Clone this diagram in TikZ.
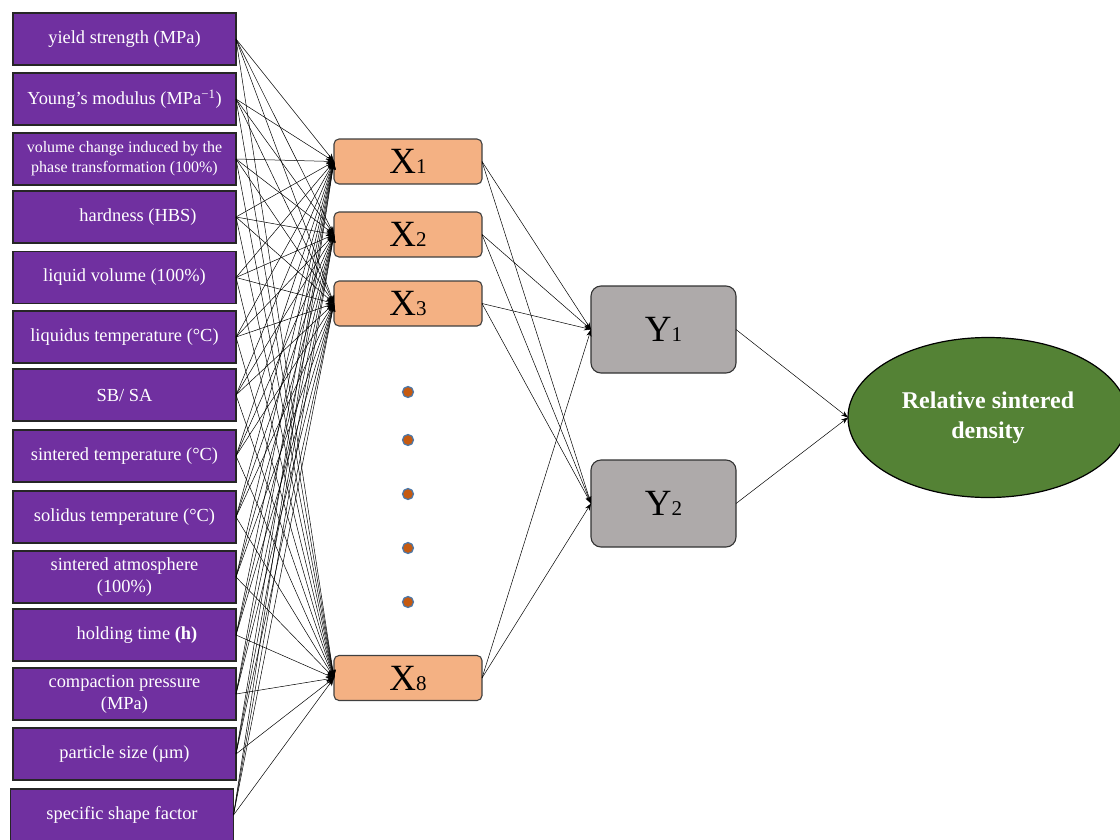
\documentclass[tikz,border=0pt]{standalone}
\usepackage{fontspec}
\setmainfont{Liberation Serif}
\usetikzlibrary{arrows.meta,shapes.geometric}
\definecolor{inpurple}{HTML}{7030A0}
\definecolor{xorange}{HTML}{F4B183}
\definecolor{ygray}{HTML}{AEAAAA}
\definecolor{outgreen}{HTML}{548235}
\definecolor{dotorange}{HTML}{C55A11}
\definecolor{dotblue}{HTML}{4A78AA}
\begin{document}
\begin{tikzpicture}[x=1pt,y=-1pt,
  inbox/.style={draw=black!85,line width=1.4pt,fill=inpurple,minimum width=223pt,minimum height=52pt,inner sep=0pt,outer sep=0pt,text=white,font=\fontsize{18.4}{22}\selectfont,align=center},
  smalltext/.style={font=\fontsize{16}{20}\selectfont},
  xbox/.style={draw=black!75,line width=1.1pt,fill=xorange,rounded corners=5pt,minimum width=148pt,minimum height=45pt,inner sep=0pt,outer sep=0pt},
  ybox/.style={draw=black!80,line width=1.1pt,fill=ygray,rounded corners=10pt,minimum width=145pt,minimum height=87pt,inner sep=0pt,outer sep=0pt},
  outell/.style={ellipse,draw=black,line width=1.2pt,fill=outgreen,minimum width=280pt,minimum height=160pt,inner sep=0pt,outer sep=0pt,text=white,font=\bfseries\fontsize{24}{30}\selectfont,align=center},
  dotnode/.style={circle,fill=dotorange,draw=dotblue,line width=1.2pt,minimum size=11pt,inner sep=0pt},
  link/.style={line width=0.5pt,-{Stealth[length=8pt,width=6pt]}},
  ylink/.style={line width=0.5pt,-{Stealth[length=7pt,width=5pt]}},
]
\clip (0,0) rectangle (1120,839);
\fill[white] (0,0) rectangle (1120,839);

% input boxes
\node[inbox] (in1) at (124.5,39) {yield strength (MPa)};
\node[inbox] (in2) at (124.5,99) {Young’s modulus (MPa\textsuperscript{−1})};
\node[inbox,smalltext] (in3) at (124.5,159) {volume change induced by the\\phase transformation (100\%)};
\node[inbox] (in4) at (124.5,217) {\hspace*{27pt}hardness (HBS)};
\node[inbox] (in5) at (124.5,277.5) {liquid volume (100\%)};
\node[inbox] (in6) at (124.5,337) {liquidus temperature (°C)};
\node[inbox] (in7) at (124.5,395) {SB/ SA};
\node[inbox] (in8) at (124.5,456) {sintered temperature (°C)};
\node[inbox] (in9) at (124.5,517) {solidus temperature (°C)};
\node[inbox] (in10) at (124.5,577) {sintered atmosphere\\(100\%)};
\node[inbox] (in11) at (124.5,635) {\hspace*{25pt}holding time \textbf{(h)}};
\node[inbox] (in12) at (124.5,694) {compaction pressure\\(MPa)};
\node[inbox] (in13) at (124.5,754) {particle size (µm)};
\node[inbox] (in14) at (122,815) {specific shape factor};

% hidden layer
\node[xbox] (x1) at (408,161.5) {\fontsize{37}{37}\selectfont X\fontsize{21}{21}\selectfont 1};
\node[xbox] (x2) at (408,234.5) {\fontsize{37}{37}\selectfont X\fontsize{21}{21}\selectfont 2};
\node[xbox] (x3) at (408,303.5) {\fontsize{37}{37}\selectfont X\fontsize{21}{21}\selectfont 3};
\node[xbox] (x8) at (408,678) {\fontsize{37}{37}\selectfont X\fontsize{21}{21}\selectfont 8};

\node[dotnode] (d1) at (408,392) {};
\node[dotnode] (d2) at (408,440) {};
\node[dotnode] (d3) at (408,494) {};
\node[dotnode] (d4) at (408,548) {};
\node[dotnode] (d5) at (408,602) {};

% second layer
\node[ybox] (y1) at (663.5,329.5) {\fontsize{37}{37}\selectfont Y\fontsize{21}{21}\selectfont 1};
\node[ybox] (y2) at (663.5,503.5) {\fontsize{37}{37}\selectfont Y\fontsize{21}{21}\selectfont 2};

% output
\node[outell] (out) at (988,417.5) {Relative sintered\\density};

% connectors
\foreach \i in {1,...,14} {
  \foreach \j in {x1,x2,x3,x8} {
    \draw[link] (in\i.east) -- (\j.west);
  }
}
\foreach \j in {x1,x2,x3,x8} {
  \draw[ylink] (\j.east) -- (y1.west);
  \draw[ylink] (\j.east) -- (y2.west);
}
\draw[ylink] (y1.east) -- (out.west);
\draw[ylink] (y2.east) -- (out.west);
\end{tikzpicture}
\end{document}
